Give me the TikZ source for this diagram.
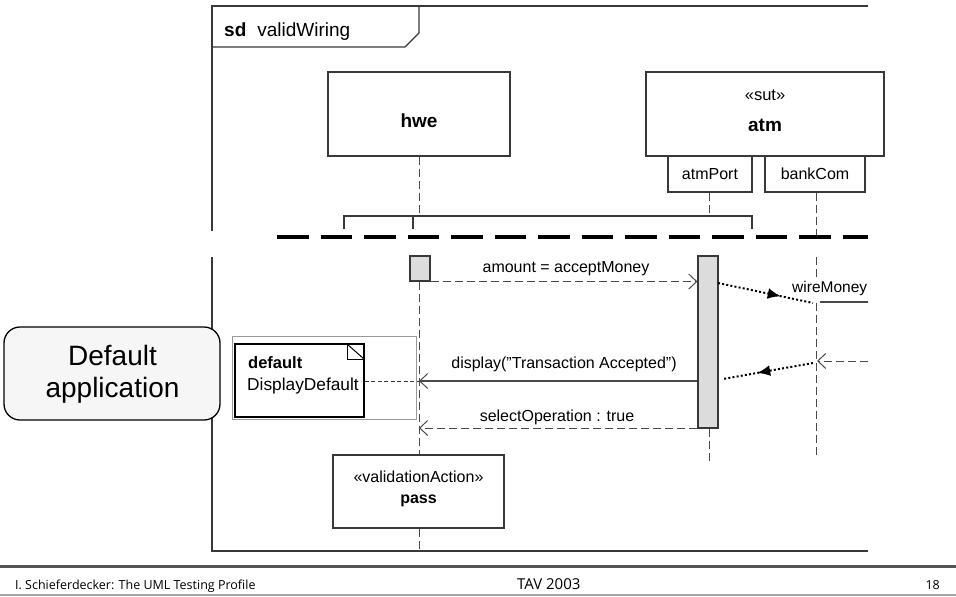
\documentclass[tikz,border=0pt]{standalone}
\usepackage{fontspec}
\setmainfont{Liberation Sans}
\newfontfamily\footfont{Open Sans}
\usetikzlibrary{arrows.meta,decorations.markings}

\definecolor{ink}{HTML}{383838}
\definecolor{lifegray}{HTML}{4A4A4A}
\definecolor{bargray}{HTML}{DCDCDC}
\definecolor{softfill}{HTML}{F6F6F6}
\definecolor{rulegray}{HTML}{555555}

\newcommand{\fsz}[1]{\fontsize{#1}{#1}\selectfont}

\begin{document}
\begin{tikzpicture}[x=1pt,y=-1pt,
  frameline/.style={draw=ink, line width=1.2pt},
  objbox/.style={draw=ink, line width=1.1pt, fill=white, inner sep=0pt},
  actbar/.style={draw=ink, line width=1.1pt, fill=bargray, inner sep=0pt, minimum width=20pt},
  lifeline/.style={draw=lifegray, line width=1pt, dash pattern=on 8pt off 4pt},
  barb/.style={-{Straight Barb[length=8pt,width=15pt,line width=1pt]}},
  reply/.style={draw=lifegray, line width=1pt, dash pattern=on 8pt off 4pt, barb},
  call/.style={draw=lifegray, line width=1.1pt, barb},
  dotmsg/.style={draw=black, line width=2pt, dash pattern=on 2pt off 2.2pt},
  midarrow/.style={postaction={decorate, decoration={markings,
      mark=at position #1 with {\arrow{Latex[length=13pt,width=11pt]}}}}},
  lbl/.style={font=\fsz{16}, inner sep=0pt, anchor=base},
  bigname/.style={font=\fsz{19}\bfseries, inner sep=0pt, anchor=base},
  foot/.style={font=\footfont\fsz{12.5}, inner sep=0pt, anchor=base west}
]
\useasboundingbox (0,0) rectangle (956,597);

% ---- interaction frame and its name tab
\draw[frameline] (212,231) -- (212,6) -- (868,6);
\draw[frameline] (212,257) -- (212,551) -- (868,551);
\draw[frameline] (212,47) -- (405,47) -- (419,33) -- (419,6);
\node[font=\fsz{19}, inner sep=0pt, anchor=base west] (title) at (224,36)
  {\textbf{sd}\hspace{11pt}validWiring};

% ---- lifeline heads
\node[objbox, minimum width=182pt, minimum height=84pt] (hwe) at (419,114) {};
\node[bigname] (hwename) at (419,127) {hwe};
\node[objbox, minimum width=238pt, minimum height=84pt] (atm) at (765,114) {};
\node[lbl] (sut) at (765,100) {\fsz{16.5}«sut»};
\node[bigname] (atmname) at (765,131) {atm};
\node[objbox, minimum width=84pt, minimum height=36pt] (atmPort) at (710,174) {};
\node[lbl] (atmPortname) at (710,179) {atmPort};
\node[objbox, minimum width=100pt, minimum height=36pt] (bankCom) at (815,174) {};
\node[lbl] (bankComname) at (815,179) {bankCom};

% ---- connection bracket above the separator
\coordinate (brL) at (344,229);
\coordinate (brH) at (413,229);
\coordinate (brR) at (752,229);
\draw[draw=ink, line width=1.1pt] (brL) -- (344,216) -- (752,216) -- (brR);
\draw[draw=ink, line width=1.1pt] (brH) -- (413,216);

% ---- upper lifeline stubs
\draw[lifeline] (hwe.south) -- (419,216);
\draw[lifeline] (atmPort.south -| 709,0) -- (709,216);
\draw[lifeline] (bankCom.south -| 816,0) -- (816,237);

% ---- separator
\coordinate (sepL) at (277,237);
\coordinate (sepR) at (868,237);
\draw[line width=4pt, dash pattern=on 31.5pt off 12pt] (sepL) -- (sepR);

% ---- activation bars
\node[actbar, minimum height=25pt] (hbar) at (420,268.5) {};
\node[actbar, minimum height=172pt] (abar) at (708,342) {};

% ---- validation action
\node[objbox, minimum width=171pt, minimum height=73pt] (pass) at (418.5,491.5) {};
\node[lbl] (passstereo) at (418.5,482) {«validationAction»};
\node[lbl, font=\fsz{16}\bfseries] (passname) at (418.5,503) {pass};

% ---- lower lifelines
\draw[lifeline] (hbar.south -| 419,0) -- (pass.north -| 419,0);
\draw[lifeline] (pass.south -| 419,0) -- (419,551);
\draw[lifeline] (abar.south -| 709,0) -- (709,462);
\draw[lifeline] (816,257) -- (816,281);
\draw[lifeline] (816,303) -- (816,457);

% ---- messages
\coordinate (m1a) at (hbar.south east);
\coordinate (m1b) at (abar.west |- m1a);
\draw[reply] (m1a) -- (m1b);
\node[lbl] (m1lbl) at (566,272) {amount = acceptMoney};

\coordinate (m2a) at (abar.west |- 0,381);
\coordinate (m2b) at (419,381);
\draw[call] (m2a) -- (m2b);
\node[lbl] (m2lbl) at (564,368) {display(”Transaction Accepted”)};

\coordinate (m3a) at (abar.west |- 0,428);
\coordinate (m3b) at (419,428);
\draw[reply] (m3a) -- (m3b);
\node[lbl] (m3lbl) at (557,421) {selectOperation : true};

% ---- wiring towards the bank port
\coordinate (w1a) at (718,283);
\coordinate (w1b) at (813,303);
\draw[dotmsg, midarrow=0.66] (w1a) -- (w1b);
\coordinate (w2a) at (813,363);
\coordinate (w2b) at (723,379);
\draw[dotmsg, midarrow=0.62] (w2a) -- (w2b);

\begin{scope}
  \clip (770,260) rectangle (868,460);
  \node[lbl, anchor=base west, font=\fsz{15.5}] (wire) at (792,292) {wireMoney};
  \draw[draw=lifegray, line width=1.5pt] (820,302) -- (880,302);
  \coordinate (inR) at (880,361);
  \coordinate (inL) at (817,361);
  \draw[reply] (inR) -- (inL);
\end{scope}

% ---- default note
\node[draw=gray!80, line width=0.8pt, minimum width=184pt, minimum height=83pt,
      inner sep=0pt] (defframe) at (324,377.5) {};
\node[draw=black, line width=1.6pt, minimum width=129pt, minimum height=73pt,
      inner sep=0pt] (note) at (299.5,380.5) {};
\draw[line width=1pt] (347,344) -- (347,359) -- (364,359);
\draw[line width=1pt] (347,344) -- (364,359);
\node[font=\fsz{16.5}\bfseries, inner sep=0pt, anchor=base west] (notekw) at (248,368) {default};
\node[font=\fsz{17.3}, inner sep=0pt, anchor=base west] (notename) at (247,390) {DisplayDefault};
\draw[draw=ink, line width=1pt, dash pattern=on 4pt off 2.5pt] (note.east |- 0,381) -- (m2b);

% ---- callout
\node[draw=black, line width=1.3pt, fill=softfill, rounded corners=16pt,
      minimum width=216pt, minimum height=93pt, inner sep=0pt] (callout) at (112,373.5) {};
\node[font=\fsz{28}, inner sep=0pt, anchor=base] (calloutA) at (112.5,365) {Default};
\node[font=\fsz{28}, inner sep=0pt, anchor=base] (calloutB) at (112.5,397) {application};

% ---- slide footer
\draw[draw=rulegray, line width=3pt] (0,566) -- (956,566);
\draw[draw=gray!70, line width=1.5pt] (0,595) -- (956,595);
\node[foot] (author) at (15,589) {I. Schieferdecker: The UML Testing Profile};
\node[foot, font=\footfont\fsz{15}] (venue) at (517,589) {TAV 2003};
\node[foot, anchor=base east] (page) at (940,589) {18};
\end{tikzpicture}
\end{document}
